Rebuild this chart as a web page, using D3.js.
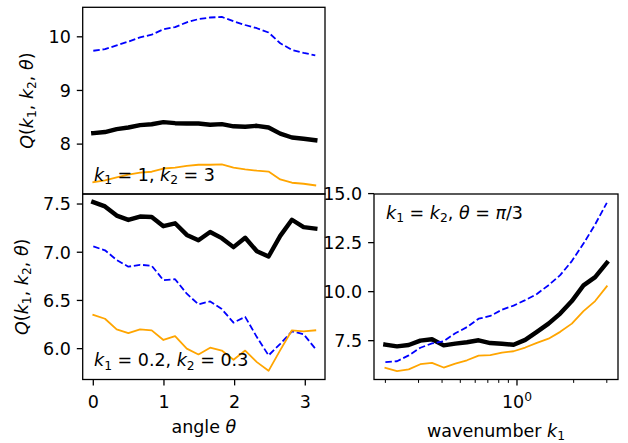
<!DOCTYPE html>
<html><head><meta charset="utf-8">
<script src="https://cdn.jsdelivr.net/npm/d3@7"></script>
<style>
html,body{margin:0;padding:0;background:#fff;}
svg{display:block;font-family:"DejaVu Sans",sans-serif;}
</style></head>
<body><svg id="chart" width="628" height="443"></svg>
<script>
// ---- data ----
const theta = [0, 0.1653, 0.3307, 0.4960, 0.6614, 0.8267, 0.9921, 1.1574, 1.3228, 1.4881,
               1.6535, 1.8188, 1.9842, 2.1495, 2.3149, 2.4802, 2.6456, 2.8109, 2.9762, 3.1416];
const k1 = [0.2, 0.2306, 0.2660, 0.3067, 0.3537, 0.4079, 0.4703, 0.5424, 0.6255, 0.7213,
            0.8318, 0.9592, 1.1061, 1.2755, 1.4709, 1.6963, 1.9561, 2.2557, 2.6013, 3.0];

const topBlack  = [8.205, 8.225, 8.28, 8.31, 8.353, 8.37, 8.41, 8.39, 8.385, 8.383, 8.36, 8.372, 8.332, 8.324, 8.341, 8.309, 8.195, 8.123, 8.10, 8.073];
const topBlue   = [9.74, 9.77, 9.84, 9.91, 9.99, 10.04, 10.14, 10.18, 10.27, 10.33, 10.36, 10.37, 10.29, 10.22, 10.16, 10.08, 9.88, 9.755, 9.70, 9.655];
const topOrange = [7.29, 7.325, 7.38, 7.43, 7.47, 7.485, 7.545, 7.56, 7.595, 7.615, 7.615, 7.622, 7.56, 7.528, 7.505, 7.488, 7.342, 7.28, 7.261, 7.231];

const botBlack  = [7.52, 7.475, 7.38, 7.335, 7.37, 7.365, 7.27, 7.30, 7.18, 7.125, 7.21, 7.146, 7.053, 7.15, 7.01, 6.956, 7.17, 7.337, 7.26, 7.245];
const botBlue   = [7.06, 7.02, 6.92, 6.85, 6.87, 6.86, 6.71, 6.72, 6.57, 6.46, 6.49, 6.41, 6.27, 6.33, 6.12, 5.93, 6.05, 6.18, 6.15, 6.0];
const botOrange = [6.35, 6.31, 6.20, 6.16, 6.20, 6.19, 6.09, 6.13, 6.0, 5.94, 6.01, 5.98, 5.885, 5.98, 5.86, 5.77, 5.985, 6.19, 6.18, 6.19];

const rBlack  = [7.30, 7.21, 7.28, 7.50, 7.57, 7.26, 7.35, 7.42, 7.52, 7.38, 7.34, 7.29, 7.54, 7.95, 8.37, 8.88, 9.52, 10.32, 10.74, 11.47];
const rBlue   = [6.41, 6.45, 6.75, 7.14, 7.36, 7.47, 7.88, 8.19, 8.62, 8.76, 9.08, 9.29, 9.57, 9.88, 10.33, 10.84, 11.56, 12.45, 13.43, 14.53];
const rOrange = [6.11, 5.95, 6.04, 6.30, 6.37, 6.13, 6.33, 6.50, 6.74, 6.76, 6.89, 6.96, 7.15, 7.39, 7.60, 7.95, 8.37, 9.01, 9.52, 10.27];

const thetaTicks = [0, 1, 2, 3];
const topTicks = [8, 9, 10];
const botTicks = [6.0, 6.5, 7.0, 7.5];
const rYTicks = [7.5, 10.0, 12.5, 15.0];
const rXMinor = [0.2, 0.3, 0.4, 0.5, 0.6, 0.7, 0.8, 0.9, 2, 3];
const rXMajor = [1];

// ---- layout ----
const svg = d3.select("#chart");
const FS = 17.5, SUB = 12.3;
const L = {x0: 82.7, x1: 325};
const TOP = {y0: 7.3, y1: 194};
const BOT = {y0: 194, y1: 379.5};
const R = {x0: 374, x1: 618, y0: 194, y1: 379.5};

const xTheta = d3.scaleLinear().domain([-0.150, 3.279]).range([L.x0, L.x1]);
const yTop = d3.scaleLinear().domain([7.07, 10.55]).range([TOP.y1, TOP.y0]);
const yBot = d3.scaleLinear().domain([5.68, 7.604]).range([BOT.y1, BOT.y0]);
const xK = d3.scaleLog().domain([0.174, 3.44]).range([R.x0, R.x1]);
const yR = d3.scaleLinear().domain([5.52, 14.98]).range([R.y1, R.y0]);

function mathText(sel, segs){
  let shift = 0;
  segs.forEach(s => {
    const t = sel.append("tspan").text(s[0]);
    const kind = s[1];
    let target = 0;
    if (kind === "sub") { t.attr("font-size", SUB); target = 3.5; }
    else if (kind === "sup") { t.attr("font-size", SUB); target = -7; }
    if (kind === "i") t.attr("font-style", "italic");
    if (target !== shift) { t.attr("dy", target - shift); shift = target; }
  });
  return sel;
}

function drawLines(xs, xScale, yScale, series, clipId){
  const line = d3.line().x((d,i)=>xScale(xs[i])).y(d=>yScale(d));
  const g = svg.append("g").attr("clip-path", `url(#${clipId})`);
  series.forEach(s => {
    g.append("path").attr("d", line(s.data)).attr("fill","none")
     .attr("stroke", s.color).attr("stroke-width", s.w)
     .attr("stroke-linejoin","round").attr("stroke-linecap", s.dash ? "butt" : "square")
     .attr("stroke-dasharray", s.dash || null);
  });
}

const defs = svg.append("defs");
function clip(id, x0, y0, x1, y1){
  defs.append("clipPath").attr("id", id).append("rect")
    .attr("x", x0).attr("y", y0).attr("width", x1-x0).attr("height", y1-y0);
}
clip("cTop", L.x0, TOP.y0, L.x1, TOP.y1);
clip("cBot", L.x0, BOT.y0, L.x1, BOT.y1);
clip("cR", R.x0, R.y0, R.x1, R.y1);

const W_BLACK = 4.4, W_THIN = 1.8, DASH = "6.5,2.8";

// ---- top-left panel ----
drawLines(theta, xTheta, yTop, [
  {data: topBlack, color: "#000", w: W_BLACK},
  {data: topBlue, color: "#0000ff", w: W_THIN, dash: DASH},
  {data: topOrange, color: "#ffa500", w: W_THIN}
], "cTop");

// ---- bottom-left panel ----
drawLines(theta, xTheta, yBot, [
  {data: botBlack, color: "#000", w: W_BLACK},
  {data: botBlue, color: "#0000ff", w: W_THIN, dash: DASH},
  {data: botOrange, color: "#ffa500", w: W_THIN}
], "cBot");

// ---- right panel ----
drawLines(k1, xK, yR, [
  {data: rBlack, color: "#000", w: W_BLACK},
  {data: rBlue, color: "#0000ff", w: W_THIN, dash: DASH},
  {data: rOrange, color: "#ffa500", w: W_THIN}
], "cR");

// ---- frames ----
function frame(x0,y0,x1,y1){
  svg.append("rect").attr("x",x0).attr("y",y0).attr("width",x1-x0).attr("height",y1-y0)
    .attr("fill","none").attr("stroke","#000").attr("stroke-width",1.3);
}
frame(L.x0, TOP.y0, L.x1, TOP.y1);
frame(L.x0, BOT.y0, L.x1, BOT.y1);
frame(R.x0, R.y0, R.x1, R.y1);

// ---- axes ----
const TL = 5.9, PAD = 5.9;
function yAxis(scale, ticks, x0, fmt){
  const g = svg.append("g");
  ticks.forEach(t => {
    const y = scale(t);
    g.append("line").attr("x1", x0 - TL).attr("x2", x0).attr("y1", y).attr("y2", y)
      .attr("stroke","#000").attr("stroke-width",1.3);
    g.append("text").attr("x", x0 - TL - PAD).attr("y", y).attr("dy","0.36em")
      .attr("text-anchor","end").attr("font-size",FS).attr("fill","#000").text(fmt(t));
  });
}
yAxis(yTop, topTicks, L.x0, d3.format("d"));
yAxis(yBot, botTicks, L.x0, d3.format(".1f"));
yAxis(yR, rYTicks, R.x0, d3.format(".1f"));

// theta x axis (bottom-left)
thetaTicks.forEach(t => {
  const x = xTheta(t);
  svg.append("line").attr("x1", x).attr("x2", x).attr("y1", BOT.y1).attr("y2", BOT.y1 + TL)
    .attr("stroke","#000").attr("stroke-width",1.3);
  svg.append("text").attr("x", x).attr("y", 408).attr("text-anchor","middle")
    .attr("font-size",FS).text(d3.format("d")(t));
});

// log x axis (right)
rXMinor.forEach(t => {
  const x = xK(t);
  svg.append("line").attr("x1", x).attr("x2", x).attr("y1", R.y1).attr("y2", R.y1 + 3.4)
    .attr("stroke","#000").attr("stroke-width",1.0);
});
rXMajor.forEach(t => {
  const x = xK(t);
  svg.append("line").attr("x1", x).attr("x2", x).attr("y1", R.y1).attr("y2", R.y1 + TL)
    .attr("stroke","#000").attr("stroke-width",1.3);
  const txt = svg.append("text").attr("x", x).attr("y", 408).attr("text-anchor","middle").attr("font-size",FS);
  mathText(txt, [["10","n"],[String(Math.round(Math.log10(t))),"sup"]]);
});

// ---- axis labels ----
const qLabel = [["Q","i"],["(","n"],["k","i"],["1","sub"],[", ","n"],["k","i"],["2","sub"],[", ","n"],["θ","i"],[")","n"]];
mathText(svg.append("text").attr("transform", `translate(32.5,${(TOP.y0+TOP.y1)/2}) rotate(-90)`)
  .attr("text-anchor","middle").attr("font-size",FS), qLabel);
mathText(svg.append("text").attr("transform", `translate(27.5,${(BOT.y0+BOT.y1)/2}) rotate(-90)`)
  .attr("text-anchor","middle").attr("font-size",FS), qLabel);

mathText(svg.append("text").attr("x", (L.x0+L.x1)/2).attr("y", 433).attr("text-anchor","middle")
  .attr("font-size",FS), [["angle ","n"],["θ","i"]]);
mathText(svg.append("text").attr("x", (R.x0+R.x1)/2).attr("y", 436.5).attr("text-anchor","middle")
  .attr("font-size",FS), [["wavenumber ","n"],["k","i"],["1","sub"]]);

// ---- annotations ----
mathText(svg.append("text").attr("x", 94).attr("y", 180.5).attr("font-size",FS),
  [["k","i"],["1","sub"],[" = 1, ","n"],["k","i"],["2","sub"],[" = 3","n"]]);
mathText(svg.append("text").attr("x", 94).attr("y", 366).attr("font-size",FS),
  [["k","i"],["1","sub"],[" = 0.2, ","n"],["k","i"],["2","sub"],[" = 0.3","n"]]);
mathText(svg.append("text").attr("x", 386).attr("y", 218.5).attr("font-size",FS),
  [["k","i"],["1","sub"],[" = ","n"],["k","i"],["2","sub"],[", ","n"],["θ","i"],[" = ","n"],["π","i"],["/3","n"]]);
</script>
</body></html>
